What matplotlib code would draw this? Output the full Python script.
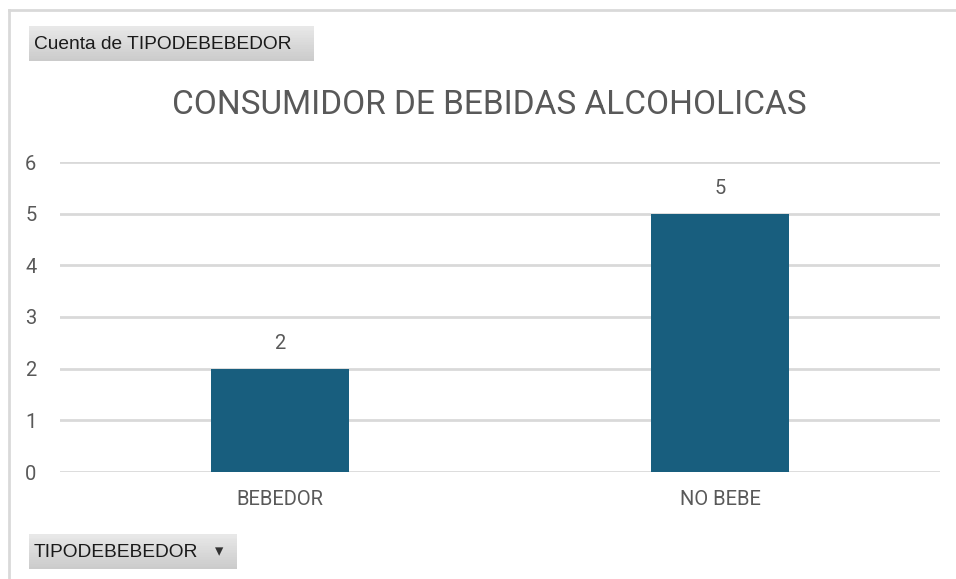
import numpy as np
import matplotlib
matplotlib.use('Agg')
import matplotlib.pyplot as plt
from matplotlib.patches import Rectangle
from matplotlib.lines import Line2D

categorias = ["BEBEDOR", "NO BEBE"]
cuenta = [2, 5]
yticks = [0, 1, 2, 3, 4, 5, 6]

gris = "#595959"
azul = "#185E7E"

plt.rcParams['font.family'] = ['Roboto', 'DejaVu Sans']

fig = plt.figure(figsize=(9.56, 5.79), dpi=100)
W, H = 956, 579

def fx(px):
    return px / W

def fy(py):
    return 1 - py / H

# marco del grafico
fig.add_artist(Line2D([fx(9), 1], [fy(10), fy(10)], color="#d9d9d9", lw=2))
fig.add_artist(Line2D([fx(9), fx(9)], [fy(10), 0], color="#d9d9d9", lw=2))

ax = fig.add_axes([fx(60), fy(472), fx(940) - fx(60), fy(162) - fy(472)])
x = np.arange(len(categorias))
barras = ax.bar(x, cuenta, width=0.314, color=azul, zorder=3)
ax.set_xlim(-0.5, 1.5)
ax.set_ylim(0, 6)
ax.set_yticks(yticks)
ax.set_xticks(x)
ax.set_xticklabels(categorias)
ax.grid(axis='y', color="#d9d9d9", lw=2, zorder=0)
for s in ax.spines.values():
    s.set_visible(False)
ax.tick_params(length=0, colors=gris, labelsize=14.5)
ax.tick_params(axis='y', pad=17)
ax.tick_params(axis='x', pad=13)
for b, v in zip(barras, cuenta):
    ax.annotate(str(v), (b.get_x() + b.get_width() / 2, v), xytext=(0, 18),
                textcoords='offset points', ha='center', va='center',
                color=gris, fontsize=14.5)

fig.text(fx(489), fy(105), "CONSUMIDOR DE BEBIDAS ALCOHOLICAS", ha='center',
         va='center', color=gris, fontsize=24)

# botones de tabla dinamica
def boton(x0, y0, x1, y1, texto, flecha=False):
    n = 20
    for i in range(n):
        c = 0.91 - 0.12 * i / n
        fig.add_artist(Rectangle((fx(x0), fy(y0 + (y1 - y0) * (i + 1) / n)),
                                 fx(x1) - fx(x0), fy(y0) - fy(y0 + (y1 - y0) / n),
                                 color=(c, c, c), lw=0))
    fig.text(fx(x0 + 5), fy((y0 + y1) / 2 + 1), texto, ha='left', va='center',
             color="#1a1a1a", fontsize=13.8, family=['Liberation Sans', 'DejaVu Sans'])
    if flecha:
        fig.text(fx(x1 - 18), fy((y0 + y1) / 2), "\u25BE", ha='center', va='center',
                 color="#333333", fontsize=12, family=['DejaVu Sans'])

boton(29, 26, 314, 61, "Cuenta de TIPODEBEBEDOR")
boton(29, 534, 237, 569, "TIPODEBEBEDOR", flecha=True)

fig.savefig("out.png", dpi=100, facecolor='white')
